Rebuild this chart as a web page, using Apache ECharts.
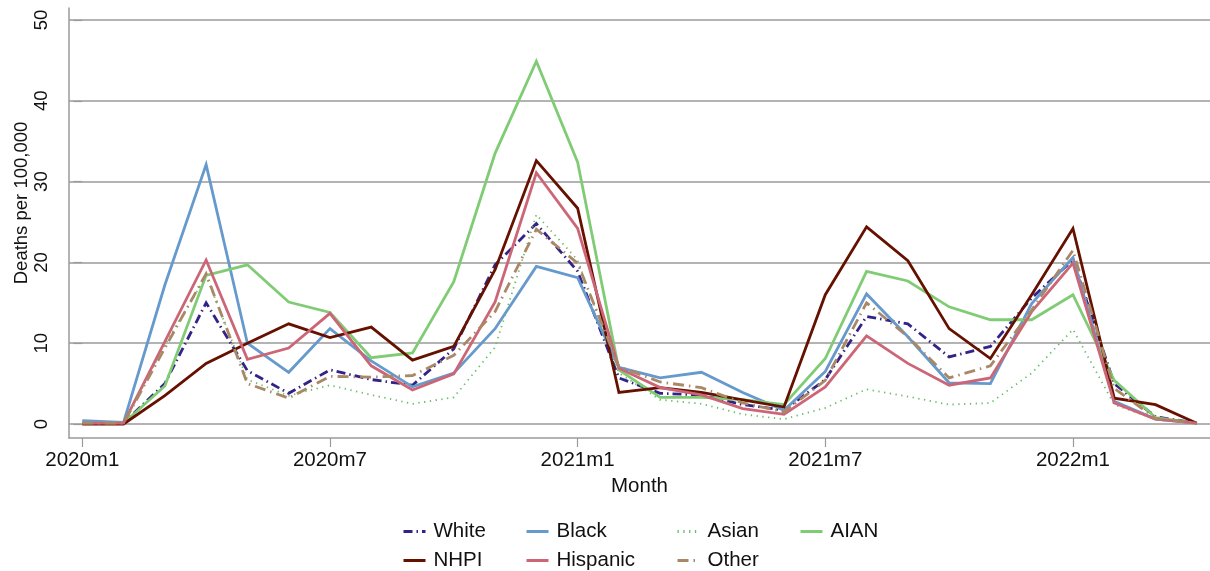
<!DOCTYPE html>
<html>
<head>
<meta charset="utf-8">
<script src="https://cdn.jsdelivr.net/npm/echarts@6/dist/echarts.min.js"></script>
<style>
  html, body { margin: 0; padding: 0; background: #fff; }
  #chart { width: 1210px; height: 571px; }
</style>
</head>
<body>
<div id="chart"></div>
<script>
const months = ['2020m1','2020m2','2020m3','2020m4','2020m5','2020m6','2020m7','2020m8','2020m9','2020m10','2020m11','2020m12',
                '2021m1','2021m2','2021m3','2021m4','2021m5','2021m6','2021m7','2021m8','2021m9','2021m10','2021m11','2021m12',
                '2022m1','2022m2','2022m3','2022m4'];
const tickMonths = [0, 6, 12, 18, 24];

const white    = [0.1,0.1,5.0,15.0,6.6,3.8,6.7,5.5,4.8,9.3,19.7,24.8,18.9,5.7,3.8,3.6,2.4,1.7,5.5,13.3,12.4,8.3,9.6,15.6,20.3,5.0,0.9,0.1];
const black    = [0.4,0.2,17.2,32.1,10.0,6.4,11.8,7.8,4.6,6.3,11.8,19.5,18.1,7.0,5.7,6.4,3.9,1.7,6.5,16.1,10.8,5.1,5.0,14.9,20.6,2.8,0.6,0.1];
const asian    = [0.1,0.1,9.8,18.3,5.5,3.5,4.8,3.6,2.5,3.3,9.5,25.9,20.3,6.3,3.0,2.5,1.2,0.6,2.0,4.3,3.4,2.4,2.6,6.3,11.7,2.4,0.6,0.1];
const aian     = [0.1,0.1,4.7,18.4,19.7,15.1,13.8,8.2,8.8,17.6,33.5,44.9,32.4,6.7,3.3,3.3,3.0,2.4,8.1,18.9,17.7,14.5,12.9,12.9,16.0,5.4,0.8,0.1];
const nhpi     = [0.0,0.0,3.5,7.5,10.0,12.4,10.7,12.0,7.9,9.6,19.1,32.6,26.7,3.9,4.5,3.9,3.0,2.1,16.0,24.4,20.2,11.8,8.1,16.0,24.2,3.2,2.4,0.1];
const hispanic = [0.1,0.1,10.2,20.3,8.0,9.4,13.7,7.2,4.2,6.2,15.1,31.1,24.2,6.9,4.5,3.6,1.9,1.2,4.6,10.9,7.5,4.8,5.7,13.9,19.9,2.6,0.6,0.1];
const other    = [0.1,0.1,9.4,18.6,5.0,3.2,5.9,5.8,6.0,8.5,13.9,24.1,19.9,7.1,5.2,4.5,2.6,1.5,5.4,15.0,10.8,5.7,7.2,14.1,21.5,4.4,0.7,0.1];

const seriesDefs = [
  { name: 'White',    data: white,    color: '#332288', type: [9, 4, 1.5, 4], width: 2.8 },
  { name: 'Black',    data: black,    color: '#6699CC', type: 'solid', width: 2.8 },
  { name: 'Asian',    data: asian,    color: '#66BB66', type: [1.3, 4.5], width: 1.8 },
  { name: 'AIAN',     data: aian,     color: '#80CC75', type: 'solid', width: 2.8 },
  { name: 'NHPI',     data: nhpi,     color: '#661100', type: 'solid', width: 2.8 },
  { name: 'Hispanic', data: hispanic, color: '#CC6677', type: 'solid', width: 2.8 },
  { name: 'Other',    data: other,    color: '#AA8866', type: [11, 5, 1.5, 5], width: 2.8 }
];

// legend layout: [name, left, top]
const legendSlots = [
  ['White', 397, 516], ['Black', 520, 516], ['Asian', 671, 516], ['AIAN', 794, 516],
  ['NHPI', 397, 545], ['Hispanic', 520, 545], ['Other', 671, 545]
];

const FONT = '"Liberation Sans", Arial, Helvetica, sans-serif';
const GRID_LINE = '#9a9a9a';
const X_MIN = -0.322, X_MAX = 27.32;

const chart = echarts.init(document.getElementById('chart'), null, { renderer: 'canvas' });

const option = {
  animation: false,
  backgroundColor: '#fff',
  grid: [
    { left: 69, right: 0, top: 20, bottom: 147, containLabel: false },
    { left: 69, right: 0, top: 8, bottom: 133, containLabel: false }
  ],
  legend: legendSlots.map(([name, left, top]) => ({
    orient: 'horizontal', left: left, top: top,
    data: [name],
    itemWidth: 22, itemHeight: 14,
    selectedMode: false,
    itemStyle: { opacity: 0 },
    lineStyle: { width: 3 },
    textStyle: { fontFamily: FONT, fontSize: 20.5, color: '#111', lineHeight: 20, padding: [0, 0, 0, 3] }
  })),
  xAxis: [
    { gridIndex: 0, type: 'value', min: X_MIN, max: X_MAX, show: false },
    {
      gridIndex: 1, type: 'value', min: X_MIN, max: X_MAX,
      axisLine: { show: true, onZero: false, lineStyle: { color: GRID_LINE, width: 1.5 } },
      axisTick: { show: true, length: 9, customValues: tickMonths, lineStyle: { color: GRID_LINE, width: 1.2 } },
      axisLabel: { customValues: tickMonths, margin: 12, fontFamily: FONT, fontSize: 20.5, color: '#111',
                   formatter: v => months[Math.round(v)] },
      splitLine: { show: false },
      name: 'Month', nameLocation: 'middle', nameGap: 37,
      nameTextStyle: { fontFamily: FONT, fontSize: 20.5, color: '#111' }
    }
  ],
  yAxis: [
    {
      gridIndex: 0, type: 'value', min: 0, max: 50, interval: 10,
      axisLine: { show: false },
      axisTick: { show: true, length: 9, lineStyle: { color: GRID_LINE, width: 1.2 } },
      axisLabel: { rotate: 90, margin: 18, fontFamily: FONT, fontSize: 18.5, color: '#111' },
      splitLine: { show: true, lineStyle: { color: GRID_LINE, width: 1.5 } }
    },
    {
      gridIndex: 1, type: 'value', min: 0, max: 1,
      axisLine: { show: true, onZero: false, lineStyle: { color: GRID_LINE, width: 1.5 } },
      axisTick: { show: false }, axisLabel: { show: false }, splitLine: { show: false },
      name: 'Deaths per 100,000', nameLocation: 'middle', nameGap: 38, nameRotate: 90,
      nameTextStyle: { fontFamily: FONT, fontSize: 18.5, color: '#111', padding: [0, 0, 0, 40] }
    }
  ],
  series: seriesDefs.map(s => ({
    name: s.name,
    type: 'line',
    xAxisIndex: 0, yAxisIndex: 0,
    data: s.data.map((v, i) => [i, v]),
    symbol: 'none',
    clip: false,
    color: s.color,
    lineStyle: { color: s.color, width: s.width, type: s.type, cap: 'butt', join: 'miter' },
    emphasis: { disabled: true }
  }))
};

chart.setOption(option);
</script>
</body>
</html>
